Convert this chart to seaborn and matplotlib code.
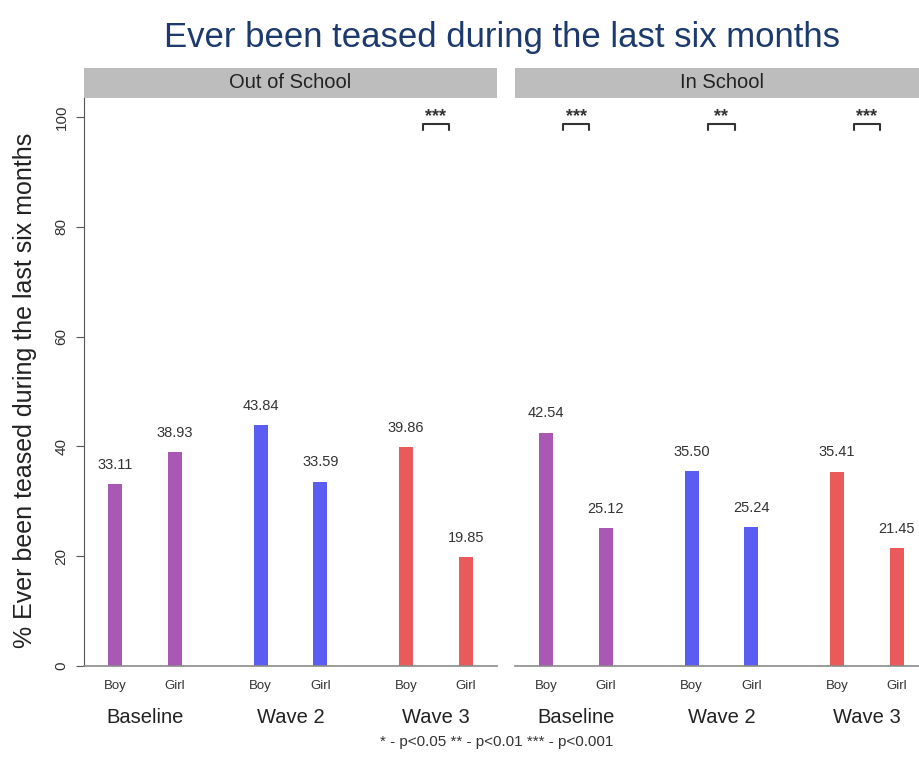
import matplotlib
matplotlib.use("Agg")
import matplotlib.pyplot as plt
import seaborn as sns
import pandas as pd
from matplotlib.patches import Rectangle
from matplotlib.transforms import blended_transform_factory

settings = ["Out of School", "In School"]
waves = ["Baseline", "Wave 2", "Wave 3"]
sexes = ["Boy", "Girl"]
values_out = [33.11, 38.93, 43.84, 33.59, 39.86, 19.85]   # Boy/Girl per wave
values_in = [42.54, 25.12, 35.50, 25.24, 35.41, 21.45]
sig_out = ["", "", "***"]
sig_in = ["***", "**", "***"]
wave_colors = ["#a958b4", "#5b5cf2", "#ea5a5a"]
title = "Ever been teased during the last six months"
ylabel = "% Ever been teased during the last six months"
footnote = "* - p<0.05 ** - p<0.01 *** - p<0.001"
yticks = [0, 20, 40, 60, 80, 100]

rows = []
for setting, vals in zip(settings, [values_out, values_in]):
    for i, w in enumerate(waves):
        for j, s in enumerate(sexes):
            rows.append(dict(setting=setting, wave=w, sex=s, value=vals[2 * i + j]))
df = pd.DataFrame(rows)

sns.set_style("white")
plt.rcParams["font.family"] = ["Liberation Sans", "DejaVu Sans"]

W, H = 919, 768
fig = plt.figure(figsize=(W / 100, H / 100), dpi=100)
ax_w = 413 / W
ax_b = (H - 666) / H
ax_h = (666 - 98) / H
axes = [fig.add_axes([84 / W, ax_b, ax_w, ax_h]),
        fig.add_axes([515 / W, ax_b, ax_w, ax_h])]

for k, (ax, setting, sig) in enumerate(zip(axes, settings, [sig_out, sig_in])):
    sub = df[df.setting == setting]
    sns.barplot(data=sub, x="wave", y="value", hue="sex", order=waves,
                hue_order=sexes, dodge=True, width=0.82, gap=0.76,
                legend=False, ax=ax, errorbar=None, saturation=1)
    for cont in ax.containers:
        for i, bar in enumerate(cont):
            bar.set_facecolor(wave_colors[i])
            bar.set_edgecolor("none")
        ax.bar_label(cont, fmt="%.2f", padding=9, fontsize=10.5, color="#333333")
    ax.set_xlim(-0.42, 2.42)
    ax.set_ylim(0, 103.5)
    ax.set_xlabel("")
    ax.set_ylabel("")
    for sp in ["top", "right", "left"]:
        ax.spines[sp].set_visible(False)
    ax.spines["bottom"].set_color("#8a8a8a")
    ax.spines["bottom"].set_linewidth(1.2)
    ax.set_xticks(range(len(waves)))
    ax.set_xticklabels(waves, fontsize=14.5, color="#222222")
    ax.tick_params(axis="x", length=0, pad=30)
    # Boy / Girl labels under bars
    trans = blended_transform_factory(ax.transData, ax.transAxes)
    for cont, s in zip(ax.containers, sexes):
        for bar in cont:
            cx = bar.get_x() + bar.get_width() / 2
            ax.text(cx, -0.035, s, transform=trans, ha="center", va="center",
                    fontsize=9.5, color="#333333")
    # significance brackets
    for i, st in enumerate(sig):
        if st:
            ax.plot([i - 0.09, i - 0.09, i + 0.09, i + 0.09],
                    [97.6, 98.8, 98.8, 97.6], color="#333333", lw=1.5,
                    clip_on=False)
            ax.text(i, 98.6, st, ha="center", va="bottom", fontsize=13,
                    color="#333333", fontweight="bold")
    # strip
    ax.add_patch(Rectangle((0, 1.0), 1, 30 / 568, transform=ax.transAxes,
                           facecolor="#bdbdbd", edgecolor="none", clip_on=False))
    ax.text(0.5, 1.0 + 15 / 568, setting, transform=ax.transAxes, ha="center",
            va="center", fontsize=14.5, color="#222222")
    if k == 0:
        ax.spines["left"].set_visible(True)
        ax.spines["left"].set_color("#555555")
        ax.set_yticks(yticks)
        ax.set_yticklabels([str(t) for t in yticks], rotation=90,
                           va="center", fontsize=11, color="#333333")
        ax.tick_params(axis="y", length=6, width=0.8, direction="out",
                       left=True, color="#555555", pad=5)
        ax.set_ylabel(ylabel, fontsize=18, color="#222222")
        ax.yaxis.set_label_coords(-47 / 413, (666 - 390) / 568)
    else:
        ax.set_yticks([])

fig.text(502 / W, 1 - 38 / H, title, ha="center", va="center",
         fontsize=25, color="#1d3a6e")
fig.text(497 / W, 1 - 742 / H, footnote, ha="center", va="center",
         fontsize=11, color="#333333")

fig.savefig("out.png", dpi=100)
